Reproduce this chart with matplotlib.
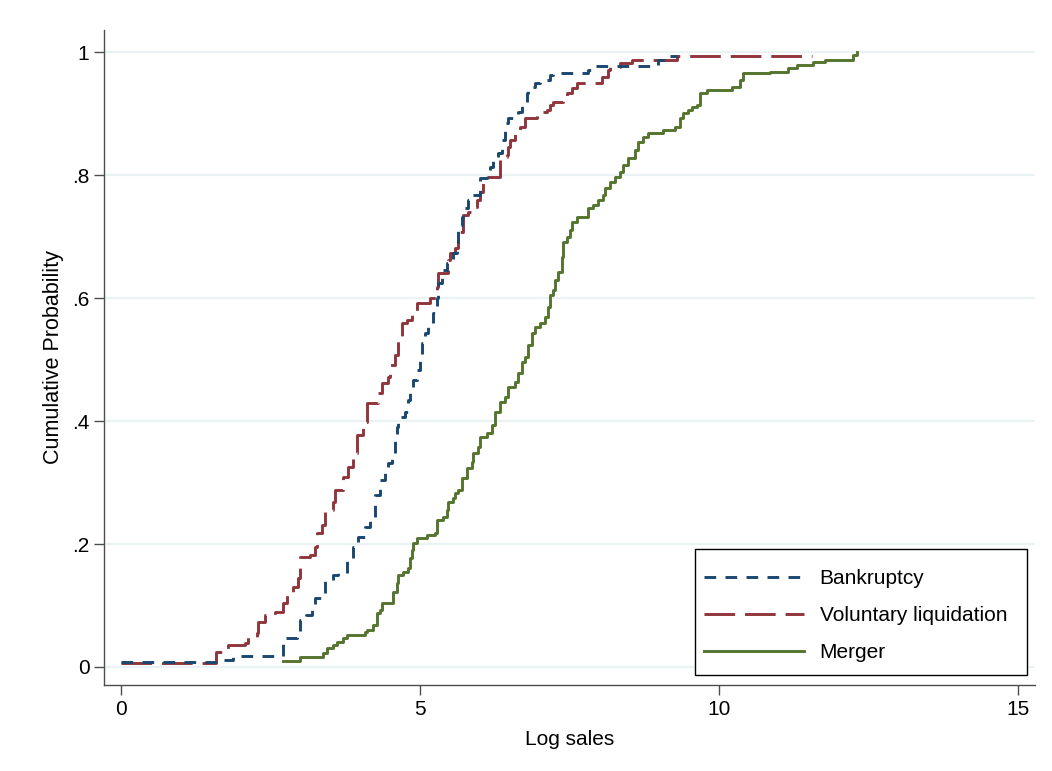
import matplotlib
matplotlib.use("Agg")
import matplotlib.pyplot as plt
from matplotlib.patches import Rectangle

plt.rcParams['font.family'] = ['Liberation Sans', 'DejaVu Sans']

# ---- data ----
bk_x = [0.000, 1.605, 1.873, 2.709, 2.943, 2.993, 3.094, 3.194, 3.244, 3.378, 3.411, 3.545,
        3.629, 3.779, 3.880, 3.963, 4.080, 4.164, 4.247, 4.331, 4.415, 4.465, 4.532, 4.582,
        4.615, 4.632, 4.749, 4.799, 4.833, 4.883, 4.950, 5.000, 5.033, 5.084, 5.134, 5.217,
        5.284, 5.301, 5.368, 5.452, 5.552, 5.619, 5.635, 5.702, 5.719, 5.803, 5.886, 6.003,
        6.120, 6.171, 6.221, 6.304, 6.371, 6.421, 6.472, 6.639, 6.706, 6.789, 6.806, 6.923,
        7.007, 7.174, 7.224, 7.809, 7.893, 8.980, 9.130, 9.298]
bk_y = [0.008, 0.011, 0.018, 0.047, 0.057, 0.076, 0.085, 0.093, 0.112, 0.117, 0.141, 0.150,
        0.153, 0.174, 0.195, 0.211, 0.228, 0.244, 0.280, 0.304, 0.315, 0.332, 0.348, 0.369,
        0.390, 0.407, 0.415, 0.434, 0.450, 0.467, 0.483, 0.504, 0.527, 0.543, 0.559, 0.576,
        0.600, 0.624, 0.646, 0.657, 0.673, 0.689, 0.719, 0.732, 0.746, 0.759, 0.767, 0.795,
        0.800, 0.813, 0.829, 0.836, 0.857, 0.885, 0.893, 0.902, 0.917, 0.933, 0.943, 0.950,
        0.954, 0.963, 0.966, 0.971, 0.977, 0.987, 0.993, 0.993]

vl_x = [0.000, 1.589, 1.789, 2.074, 2.124, 2.274, 2.291, 2.408, 2.575, 2.709, 2.776, 2.876,
        2.960, 2.993, 3.161, 3.244, 3.278, 3.361, 3.411, 3.545, 3.579, 3.712, 3.796, 3.880,
        3.946, 4.047, 4.114, 4.298, 4.365, 4.465, 4.498, 4.582, 4.632, 4.699, 4.783, 4.866,
        4.950, 5.167, 5.284, 5.301, 5.468, 5.502, 5.585, 5.635, 5.669, 5.719, 5.803, 5.886,
        5.953, 6.003, 6.054, 6.137, 6.338, 6.455, 6.472, 6.505, 6.589, 6.672, 6.756, 6.957,
        7.007, 7.124, 7.174, 7.224, 7.391, 7.458, 7.542, 7.625, 8.043, 8.144, 8.177, 8.344,
        8.545, 9.298, 11.555]
vl_y = [0.007, 0.024, 0.036, 0.039, 0.049, 0.055, 0.073, 0.085, 0.089, 0.104, 0.120, 0.130,
        0.145, 0.179, 0.182, 0.195, 0.218, 0.231, 0.255, 0.268, 0.288, 0.309, 0.325, 0.348,
        0.377, 0.398, 0.429, 0.446, 0.462, 0.472, 0.491, 0.507, 0.532, 0.559, 0.564, 0.577,
        0.592, 0.600, 0.618, 0.641, 0.662, 0.673, 0.681, 0.694, 0.707, 0.735, 0.740, 0.748,
        0.759, 0.772, 0.787, 0.797, 0.829, 0.833, 0.846, 0.857, 0.873, 0.878, 0.893, 0.898,
        0.902, 0.906, 0.914, 0.919, 0.922, 0.933, 0.941, 0.950, 0.959, 0.971, 0.976, 0.982,
        0.987, 0.993, 0.993]

mg_x = [2.709, 2.993, 3.378, 3.445, 3.545, 3.612, 3.712, 3.779, 4.080, 4.114, 4.214, 4.281,
        4.331, 4.365, 4.548, 4.615, 4.632, 4.716, 4.799, 4.833, 4.866, 4.883, 4.950, 5.117,
        5.251, 5.284, 5.385, 5.452, 5.468, 5.552, 5.585, 5.635, 5.702, 5.786, 5.870, 5.886,
        5.970, 6.003, 6.120, 6.204, 6.254, 6.338, 6.421, 6.472, 6.589, 6.639, 6.706, 6.756,
        6.806, 6.873, 6.923, 7.007, 7.090, 7.140, 7.174, 7.224, 7.258, 7.308, 7.375, 7.391,
        7.458, 7.508, 7.542, 7.625, 7.809, 7.893, 7.977, 8.060, 8.094, 8.177, 8.261, 8.344,
        8.395, 8.478, 8.595, 8.645, 8.729, 8.813, 9.064, 9.264, 9.348, 9.398, 9.482, 9.548,
        9.632, 9.682, 9.799, 10.217, 10.351, 10.401, 10.853, 11.154, 11.304, 11.572, 11.773,
        12.241, 12.308]
mg_y = [0.010, 0.016, 0.023, 0.031, 0.036, 0.041, 0.047, 0.052, 0.057, 0.060, 0.068, 0.088,
        0.093, 0.104, 0.122, 0.137, 0.150, 0.154, 0.161, 0.177, 0.190, 0.202, 0.210, 0.215,
        0.218, 0.239, 0.244, 0.255, 0.268, 0.275, 0.283, 0.288, 0.307, 0.324, 0.333, 0.348,
        0.358, 0.374, 0.380, 0.393, 0.415, 0.431, 0.439, 0.455, 0.463, 0.478, 0.496, 0.504,
        0.524, 0.543, 0.553, 0.559, 0.569, 0.585, 0.605, 0.613, 0.629, 0.642, 0.667, 0.691,
        0.699, 0.711, 0.724, 0.732, 0.746, 0.751, 0.759, 0.767, 0.779, 0.789, 0.797, 0.805,
        0.816, 0.828, 0.841, 0.854, 0.862, 0.868, 0.873, 0.878, 0.893, 0.901, 0.906, 0.911,
        0.914, 0.933, 0.938, 0.943, 0.954, 0.966, 0.967, 0.974, 0.979, 0.984, 0.987,
        0.995, 1.000]

series_labels = ["Bankruptcy", "Voluntary liquidation", "Merger"]
x_ticks = [0, 5, 10, 15]
y_ticks = [0, 0.2, 0.4, 0.6, 0.8, 1.0]
y_tick_labels = ["0", ".2", ".4", ".6", ".8", "1"]

# ---- figure ----
W, H = 1052, 771
fig = plt.figure(figsize=(W / 100, H / 100), dpi=100)
ax_l, ax_r, ax_b, ax_t = 104, 1035, 685, 30
ax = fig.add_axes([ax_l / W, 1 - ax_b / H, (ax_r - ax_l) / W, (ax_b - ax_t) / H])

axis_col = "#4d4d4d"
grid_col = "#eaf2f3"
lw = 2.1
fs = 15

ax.set_xlim(-0.284, 15.284)
ax.set_ylim(-0.0293, 1.036)

for yt in y_ticks:
    ax.axhline(yt, color=grid_col, lw=1.6, zorder=0)

ax.step(bk_x, bk_y, where='post', color="#1a476f", lw=lw,
        linestyle=(0, (4.0, 3.2)), label=series_labels[0], zorder=3)
ax.step(vl_x, vl_y, where='post', color="#90353b", lw=lw,
        linestyle=(0, (10.5, 3.4)), label=series_labels[1], zorder=2)
ax.step(mg_x, mg_y, where='post', color="#55752f", lw=lw,
        linestyle='-', label=series_labels[2], zorder=2)

for s in ["top", "right"]:
    ax.spines[s].set_visible(False)
for s in ["left", "bottom"]:
    ax.spines[s].set_color(axis_col)
    ax.spines[s].set_linewidth(1.0)

ax.set_xticks(x_ticks)
ax.set_xticklabels([str(t) for t in x_ticks])
ax.set_yticks(y_ticks)
ax.set_yticklabels(y_tick_labels)
ax.tick_params(axis='both', direction='out', length=7, width=1.0, color=axis_col,
               labelsize=fs, labelcolor="black")
ax.tick_params(axis='y', pad=3.5)
ax.tick_params(axis='x', pad=4)

ax.set_xlabel("Log sales", fontsize=fs, labelpad=8)
ax.set_ylabel("Cumulative Probability", fontsize=15.5, labelpad=5.5)

# legend: frame drawn as rectangle, entries placed inside
def px_to_ax(px, py):
    return ((px - ax_l) / (ax_r - ax_l), (ax_b - py) / (ax_b - ax_t))

fx0, fy0 = px_to_ax(695, 675)
fx1, fy1 = px_to_ax(1027, 549)
ax.add_patch(Rectangle((fx0, fy0), fx1 - fx0, fy1 - fy0, transform=ax.transAxes,
                       facecolor="white", edgecolor="black", lw=1.0, zorder=4))
lx, ly = px_to_ax(704, 569)
leg = ax.legend(loc='upper left', bbox_to_anchor=(lx, ly), fontsize=fs,
                handlelength=4.8, handletextpad=0.75, labelspacing=0.86,
                borderpad=0, borderaxespad=0, frameon=False)
leg.set_zorder(5)

fig.savefig("out.png", dpi=100, facecolor="white")
